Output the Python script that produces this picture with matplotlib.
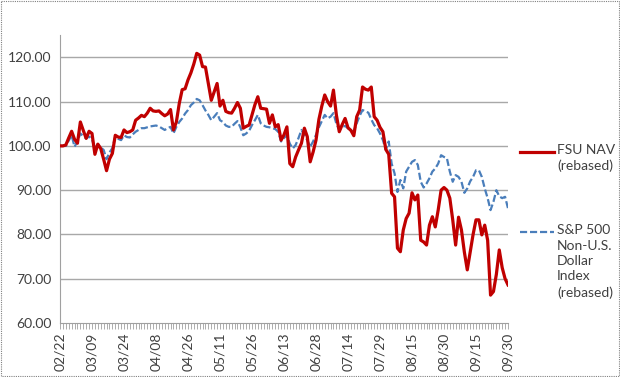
import matplotlib
matplotlib.use("Agg")
import matplotlib.pyplot as plt
import numpy as np
from matplotlib.patches import Rectangle

tick_labels = ["02/22", "03/09", "03/24", "04/08", "04/26", "05/11", "05/26",
               "06/13", "06/28", "07/14", "07/29", "08/15", "08/30", "09/15", "09/30"]

fsu_nav = [
    100.0, 100.0, 100.2, 101.8, 103.3, 101.5, 100.6, 105.4, 103.5, 101.7,
    103.3, 102.8, 98.1, 100.4, 99.4, 97.0, 94.4, 97.0, 98.3, 102.4,
    102.0, 101.9, 103.6, 103.0, 103.2, 103.6, 105.8, 106.3, 106.9, 106.6,
    107.4, 108.5, 107.9, 107.8, 107.9, 107.3, 106.8, 107.2, 108.2, 103.6,
    105.4, 109.6, 112.7, 112.9, 114.9, 116.5, 118.5, 120.9, 120.5, 117.9,
    117.8, 114.0, 110.3, 112.2, 114.1, 109.0, 110.3, 107.8, 107.5, 107.4,
    108.5, 109.8, 108.5, 104.0, 104.4, 104.7, 107.0, 109.3, 111.1, 108.5,
    108.4, 108.3, 105.1, 107.0, 104.3, 104.8, 101.3, 102.5, 104.3, 96.0,
    95.3, 97.5, 99.1, 100.6, 104.0, 102.1, 96.4, 98.6, 101.3, 106.0,
    109.0, 111.5, 110.0, 109.0, 112.6, 107.0, 103.2, 104.8, 106.2, 104.1,
    103.5, 102.3, 106.6, 108.1, 113.3, 112.8, 112.6, 113.3, 106.6, 105.8,
    104.2, 103.2, 99.2, 98.1, 89.3, 88.5, 76.9, 76.1, 81.0, 83.6,
    84.8, 89.4, 87.8, 88.9, 78.7, 78.3, 77.6, 82.1, 84.0, 81.7,
    85.5, 90.0, 90.6, 90.0, 88.2, 83.3, 77.6, 83.9, 81.0, 76.0,
    72.0, 76.0, 80.0, 83.3, 83.3, 79.9, 82.1, 78.7, 66.3, 67.1,
    71.0, 76.5, 72.5, 70.0, 68.6,
]

sp500_nonusd = [
    100.0, 100.0, 100.0, 101.2, 102.4, 99.8, 101.0, 102.8, 102.2, 101.7,
    102.1, 101.5, 99.4, 100.4, 99.6, 99.1, 97.0, 98.5, 99.5, 102.1,
    101.6, 101.3, 102.4, 102.0, 101.9, 102.6, 103.2, 103.6, 104.0, 104.0,
    104.2, 104.4, 104.5, 104.6, 104.4, 104.0, 103.6, 104.0, 104.3, 102.8,
    104.3, 105.4, 106.2, 107.3, 108.1, 109.2, 109.8, 110.6, 110.3, 109.2,
    108.0, 107.0, 105.8, 106.6, 107.4, 105.8, 105.4, 104.6, 104.3, 104.3,
    105.0, 105.6, 104.2, 102.4, 102.8, 103.4, 104.7, 105.8, 107.0, 105.1,
    104.6, 104.3, 104.2, 104.0, 103.8, 103.2, 101.0, 101.8, 102.4, 100.5,
    99.4, 100.2, 101.8, 103.6, 102.4, 101.3, 99.8, 101.0, 102.5, 104.2,
    105.6, 107.0, 106.2, 106.6, 107.4, 105.0, 103.6, 104.3, 104.5, 104.0,
    103.3, 103.4, 105.1, 106.8, 108.1, 107.8, 107.5, 106.0, 104.7, 104.0,
    102.8, 101.3, 99.1, 101.0, 96.0, 93.8, 89.6, 92.3, 90.4, 94.2,
    95.3, 96.4, 96.8, 95.7, 91.9, 90.6, 91.5, 92.7, 94.2, 94.9,
    96.0, 97.9, 97.5, 97.2, 94.2, 91.9, 93.4, 93.0, 91.9, 89.4,
    90.4, 92.0, 93.0, 94.5, 94.5, 93.0, 90.4, 88.2, 85.5, 87.4,
    90.0, 88.6, 88.2, 88.5, 85.9,
]

series_names = ["FSU NAV\n(rebased)", "S&P 500\nNon-U.S.\nDollar\nIndex\n(rebased)"]

W, H = 620, 377
fig = plt.figure(figsize=(W / 100, H / 100), dpi=100)
fig.patch.set_facecolor("white")

# dotted background pattern (staggered grid of tiny gray dots)
bg = fig.add_axes([0, 0, 1, 1], zorder=-10)
bg.set_xlim(0, W)
bg.set_ylim(H, 0)
bg.axis("off")
pts_x, pts_y = [], []
for r, yy in enumerate(np.arange(3.5, H, 4)):
    off = 0 if r % 2 == 0 else 4
    xs = np.arange(3.5 + off, W, 8)
    pts_x.extend(xs)
    pts_y.extend([yy] * len(xs))
bg.scatter(pts_x, pts_y, s=0.5, c="#b8b8b8", marker="s", linewidths=0)
bg.add_patch(Rectangle((0.5, 0.5), W - 1.5, H - 1.5, fill=False, edgecolor="#808080",
                       linestyle=(0, (1, 1)), linewidth=0.8))

ax = fig.add_axes([60 / W, 1 - 323 / H, 448 / W, (323 - 35.2) / H])
ax.patch.set_alpha(0)
x = np.arange(len(fsu_nav))

ax.plot(x, fsu_nav, color="#c00000", lw=2.3, solid_joinstyle="round", zorder=3)
ax.plot(x, sp500_nonusd, color="#4a7ebb", lw=1.6, linestyle=(0, (3.2, 1.3)), zorder=2)

ax.set_xlim(0, len(fsu_nav) - 1)
ax.set_ylim(60, 125)
ax.set_yticks(np.arange(60, 121, 10))
ax.set_yticklabels([f"{v:.2f}" for v in np.arange(60, 121, 10)],
                   fontsize=10, color="#404040", family="Lato")
for v in np.arange(70, 121, 10):
    ax.axhline(v, color="#a8a8a8", lw=1.0, zorder=1)

ax.set_xticks(x, minor=True)
ax.set_xticks(np.arange(0, len(fsu_nav), 11))
ax.set_xticklabels(tick_labels, rotation=90, fontsize=10, color="#404040", family="Lato")
ax.tick_params(axis="x", which="both", length=4, color="#a0a0a0", width=0.6, pad=3)
ax.tick_params(axis="y", length=0, pad=6)

for s in ["top", "right"]:
    ax.spines[s].set_visible(False)
ax.spines["left"].set_color("#a0a0a0")
ax.spines["bottom"].set_color("#a0a0a0")

# legend (manual, to match layout)
bg.plot([520, 554], [152, 152], color="#c00000", lw=2.3)
bg.text(557, 144, series_names[0], fontsize=10, color="#404040", family="Lato",
        va="top", ha="left", linespacing=1.35)
bg.plot([520, 554], [232, 232], color="#4a7ebb", lw=1.6, linestyle=(0, (3.2, 1.3)))
bg.text(557, 224, series_names[1], fontsize=10, color="#404040", family="Lato",
        va="top", ha="left", linespacing=1.35)

fig.savefig("out.png", dpi=100)
